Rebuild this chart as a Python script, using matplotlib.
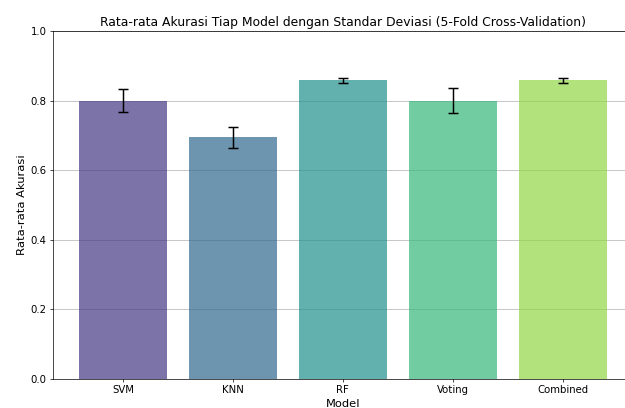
import numpy as np
import matplotlib.pyplot as plt
import seaborn as sns

# rata-rata akurasi dan standar deviasi tiap model (5-fold CV)
model = ["SVM", "KNN", "RF", "Voting", "Combined"]
rata_rata = [0.800, 0.694, 0.859, 0.800, 0.859]
std_dev = [0.032, 0.029, 0.007, 0.036, 0.007]

warna = sns.color_palette("viridis", len(model))

fig = plt.figure(figsize=(10, 6.528), dpi=62.5)
ax = fig.add_axes([52.6 / 625, 29 / 408, 580.4 / 625, 348 / 408])

ax.bar(model, rata_rata, yerr=std_dev, capsize=6, color=warna, alpha=0.7,
       error_kw=dict(elinewidth=1.7, capthick=1.7, ecolor="black"))
ax.set_ylim(0, 1)
ax.set_title("Rata-rata Akurasi Tiap Model dengan Standar Deviasi (5-Fold Cross-Validation)", fontsize=14.3)
ax.set_xlabel("Model", fontsize=13.2)
ax.set_ylabel("Rata-rata Akurasi", fontsize=13.2)
ax.tick_params(labelsize=11.6)
ax.grid(axis="y")
ax.set_axisbelow(True)

fig.savefig("out.png", dpi=62.5)
